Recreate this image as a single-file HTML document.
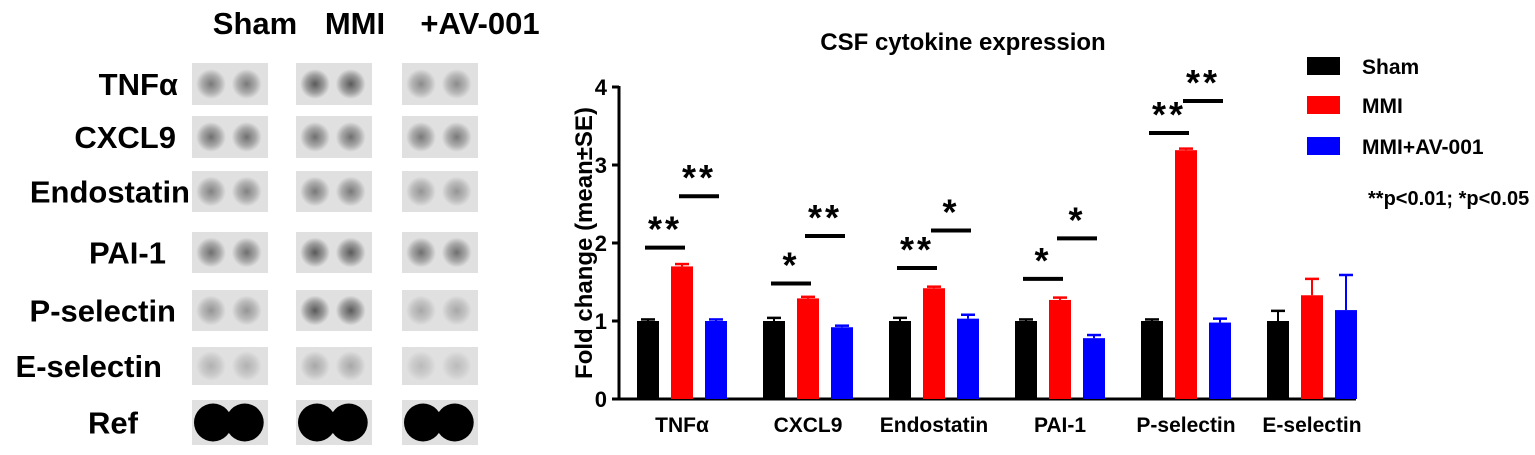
<!DOCTYPE html>
<html><head><meta charset="utf-8">
<style>
body{margin:0;background:#fff;width:1535px;height:455px;overflow:hidden;font-family:"Liberation Sans",Arial,sans-serif}
svg{position:absolute;left:0;top:0}
</style></head>
<body>
<svg width="1535" height="455">
<defs>
<radialGradient id="spot"><stop offset="0" stop-color="#000" stop-opacity="0.6"/><stop offset="0.6" stop-color="#000" stop-opacity="0.3"/><stop offset="1" stop-color="#000" stop-opacity="0"/></radialGradient>
</defs>
<g id="blot"></g>
<g id="chart"></g>
</svg>
<script>
const NS="http://www.w3.org/2000/svg";
function mk(p,t,a){const e=document.createElementNS(NS,t);for(const k in a)e.setAttribute(k,a[k]);p.appendChild(e);return e;}

// ---- Blot ----
const blotRows=["TNFα","CXCL9","Endostatin","PAI-1","P-selectin","E-selectin","Ref"];
const blotIntensity=[[0.55,0.8,0.45],[0.6,0.6,0.55],[0.5,0.55,0.4],[0.6,0.75,0.6],[0.4,1.0,0.3],[0.25,0.3,0.2],[3,3,3]];
const blotCols=["Sham","MMI","+AV-001"];
const blot=document.getElementById('blot');
const rowY=[63,116,171,232,290,347,400],rowH=[42,42,41,41,41,38,45];
const colX=[192,296,402],colW=76;
const labelX=[178,176,190,166,176,162,138];
blotCols.forEach((c,i)=>{const t=mk(blot,'text',{x:[255,355,480][i],y:34,'text-anchor':'middle','font-size':31,'font-weight':'bold'});t.textContent=c;
});
blotRows.forEach((r,ri)=>{
 const t=mk(blot,'text',{x:labelX[ri],y:rowY[ri]+rowH[ri]/2+11,'text-anchor':'end','font-size':31,'font-weight':'bold'});t.textContent=r;
 
 colX.forEach((x,ci)=>{
  const rc=mk(blot,'rect',{x:x,y:rowY[ri],width:colW,height:rowH[ri],fill:'#e0e0e0'});
  
  const v=blotIntensity[ri][ci];
  [0.25,0.72].forEach((f,k)=>{
   if(v>=3){mk(blot,'circle',{cx:x+colW*f+(k?-2:2),cy:rowY[ri]+rowH[ri]/2,r:19,fill:'#000'});}
   else{mk(blot,'circle',{cx:x+colW*f,cy:rowY[ri]+rowH[ri]/2,r:15,fill:'url(#spot)','fill-opacity':Math.min(1,v*1.4)});}
  });
 });
});

// ---- Chart ----
const categories=["TNFα","CXCL9","Endostatin","PAI-1","P-selectin","E-selectin"];
const shamVals=[1,1,1,1,1,1];
const mmiVals=[1.7,1.29,1.42,1.27,3.19,1.33];
const avVals=[1.0,0.92,1.03,0.78,0.98,1.14];
const shamErr=[0.02,0.04,0.04,0.02,0.02,0.13];
const mmiErr=[0.03,0.02,0.02,0.03,0.02,0.21];
const avErr=[0.02,0.02,0.05,0.04,0.05,0.45];
const sigLeftY=[1.94,1.48,1.68,1.54,3.41,null];
const sigLeftTxt=["**","*","**","*","**",""];
const sigRightY=[2.6,2.09,2.16,2.06,3.82,null];
const sigRightTxt=["**","**","*","*","**",""];
const yTicks=[0,1,2,3,4];
const seriesNames=["Sham","MMI","MMI+AV-001"];
const colors=["#000","#ff0000","#0000ff"];

const ch=document.getElementById('chart');
const y0=399,pxU=78;
const Y=v=>y0-v*pxU;
const X=(g,s)=>637+g*126+s*34;
const bw=22;
let t=mk(ch,'text',{x:963,y:50,'text-anchor':'middle','font-size':24,'font-weight':'bold'});t.textContent="CSF cytokine expression";

let a=mk(ch,'line',{x1:619,y1:Y(4)-1,x2:619,y2:y0+1,stroke:'#000','stroke-width':3});

a=mk(ch,'line',{x1:617,y1:y0,x2:1356,y2:y0,stroke:'#000','stroke-width':3});

yTicks.forEach(v=>{mk(ch,'line',{x1:612,x2:619,y1:Y(v),y2:Y(v),stroke:'#000','stroke-width':3});
 const tt=mk(ch,'text',{x:607,y:Y(v)+8,'text-anchor':'end','font-size':22,'font-weight':'bold'});tt.textContent=v;
 });
t=mk(ch,'text',{x:0,y:0,transform:'translate(592,243) rotate(-90)','text-anchor':'middle','font-size':24,'font-weight':'bold'});t.textContent="Fold change (mean±SE)";

const series=[shamVals,mmiVals,avVals],errs=[shamErr,mmiErr,avErr];
categories.forEach((c,g)=>{
 series.forEach((vals,s)=>{
  const x=X(g,s),v=vals[g],e=errs[s][g];
  mk(ch,'line',{x1:x+bw/2,x2:x+bw/2,y1:Y(v),y2:Y(v+e),stroke:colors[s],'stroke-width':2});
  mk(ch,'line',{x1:x+4,x2:x+bw-4,y1:Y(v+e),y2:Y(v+e),stroke:colors[s],'stroke-width':2.5});
  const b=mk(ch,'rect',{x:x,y:Y(v),width:bw,height:y0-Y(v),fill:colors[s]});
  
 });
 const lt=mk(ch,'text',{x:X(g,1)+bw/2,y:432,'text-anchor':'middle','font-size':21,'font-weight':'bold'});lt.textContent=c;
 
 [[sigLeftY,sigLeftTxt,0],[sigRightY,sigRightTxt,1]].forEach(([ys,ts,k])=>{
  if(ys[g]==null)return;
  const xa=X(g,k)+bw/2,xb=X(g,k+1)+bw/2;
  const l=mk(ch,'line',{x1:xa-3,x2:xb+3,y1:Y(ys[g]),y2:Y(ys[g]),stroke:'#000','stroke-width':4});
  
  const st=mk(ch,'text',{x:(xa+xb)/2,y:Y(ys[g])-6,'text-anchor':'middle','font-size':36,'font-weight':'bold','letter-spacing':3});st.textContent=ts[g];
  
 });
});
seriesNames.forEach((n,i)=>{
 const y=[66,105,146][i];
 const r=mk(ch,'rect',{x:1307,y:y-9,width:33,height:18,fill:colors[i]});
 
 const lt=mk(ch,'text',{x:1362,y:y+8,'font-size':21,'font-weight':'bold'});lt.textContent=n;
 
});
t=mk(ch,'text',{x:1368,y:205,'font-size':20,'font-weight':'bold'});t.textContent="**p<0.01; *p<0.05";

</script>
</body></html>
